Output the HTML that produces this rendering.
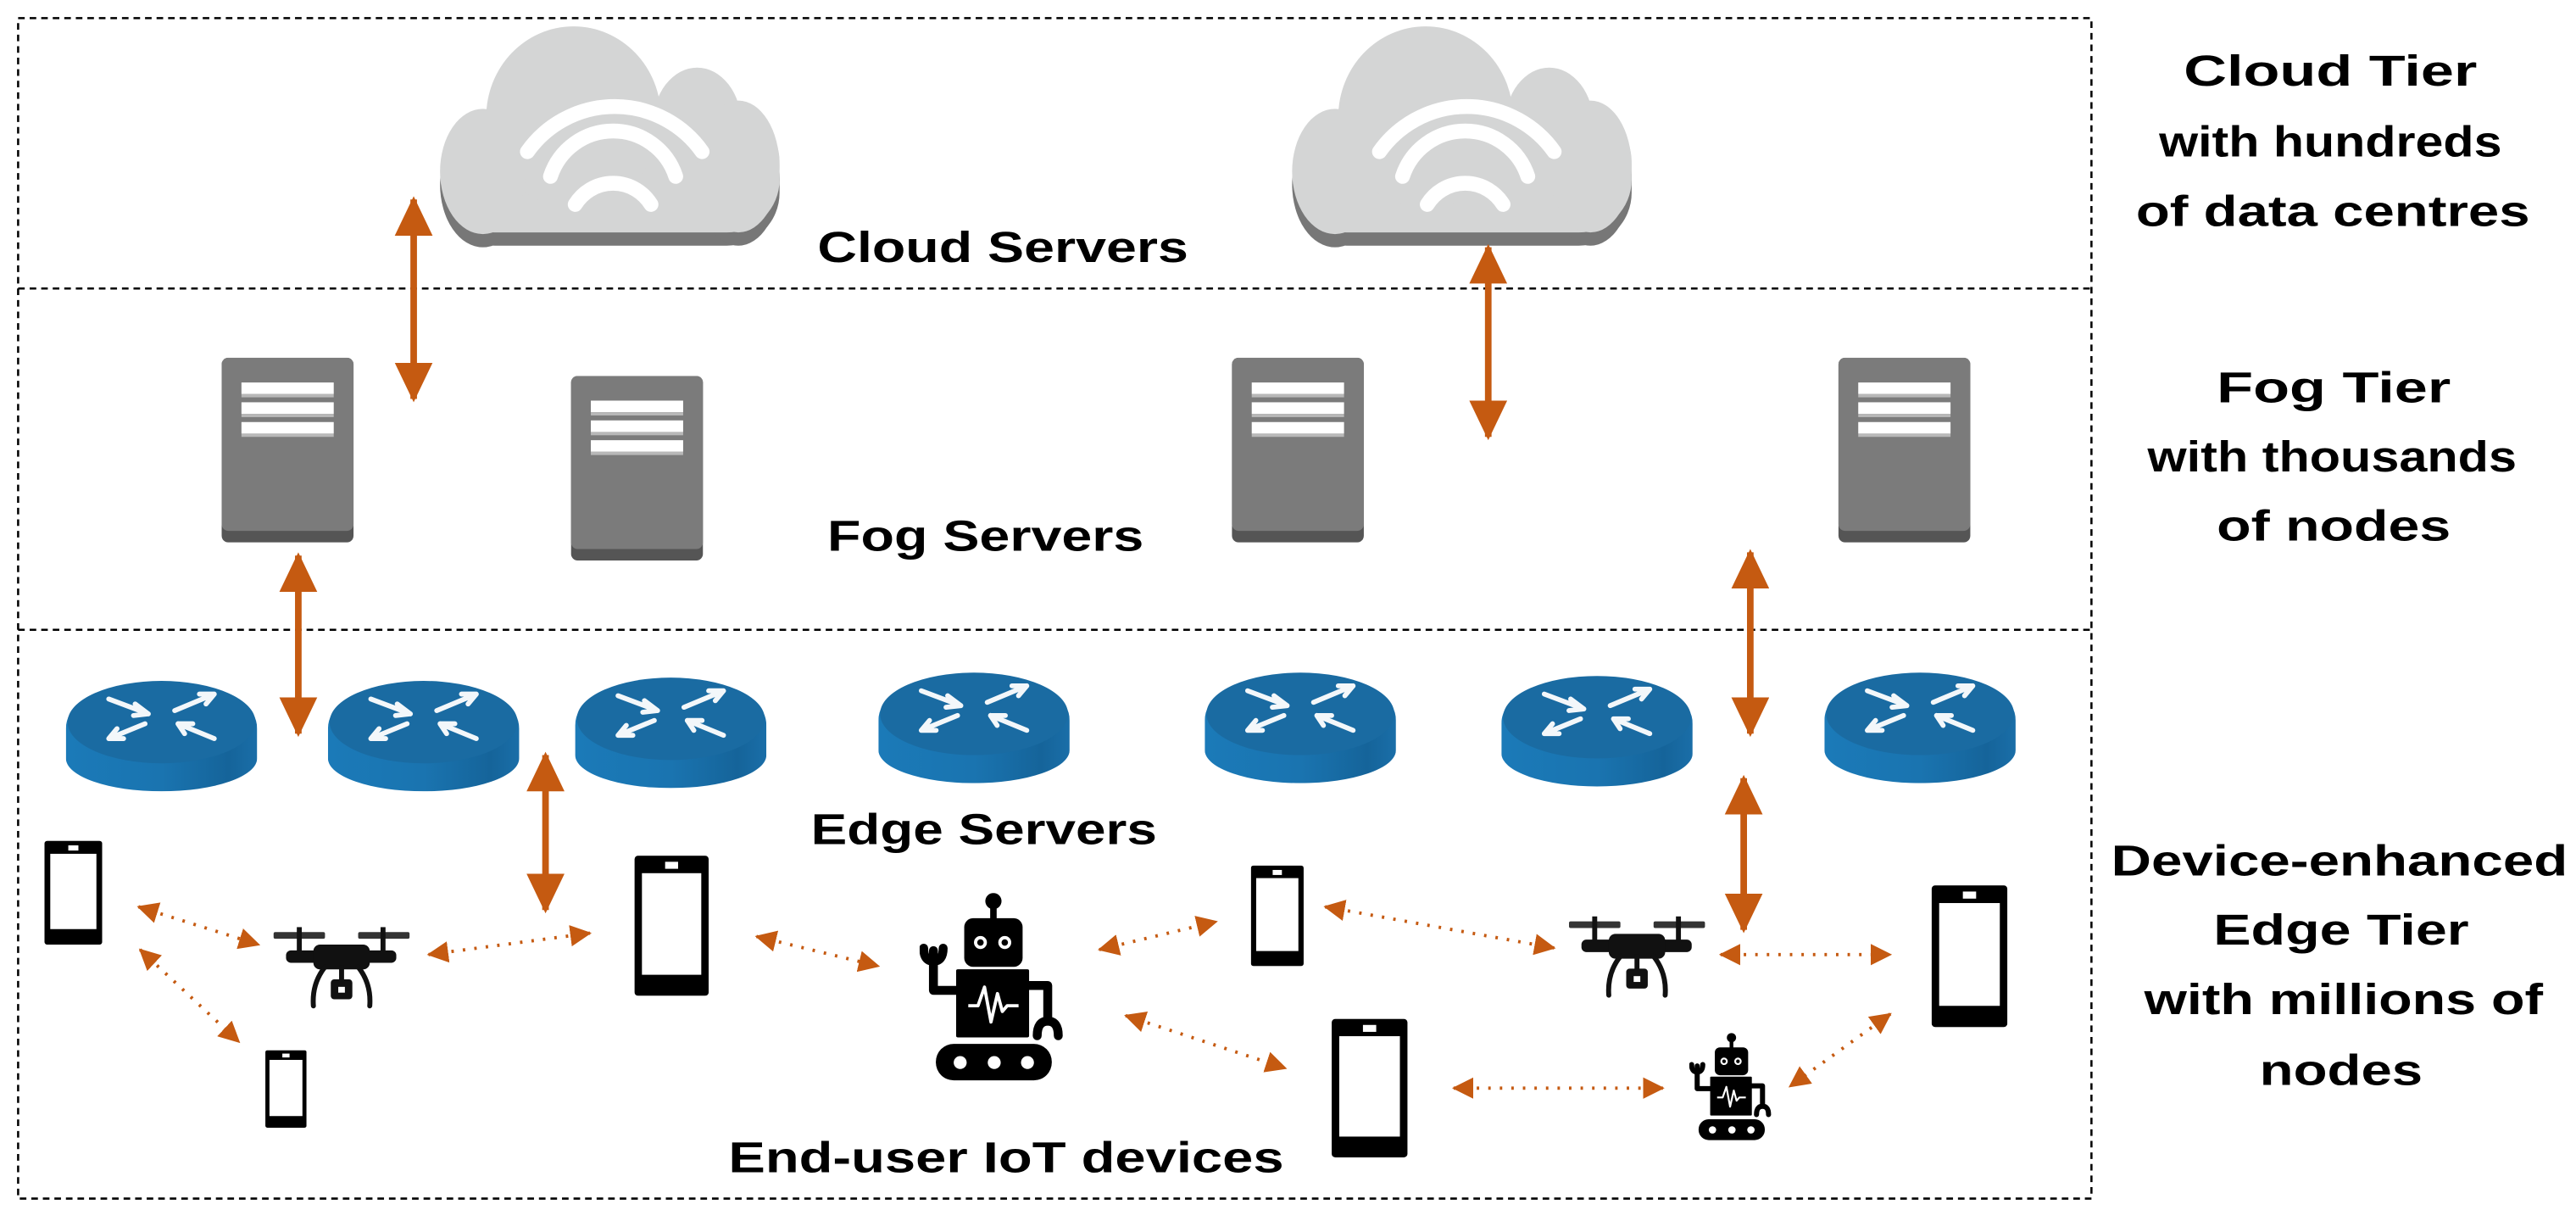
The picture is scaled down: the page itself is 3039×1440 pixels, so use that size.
<!DOCTYPE html>
<html><head><meta charset="utf-8"><style>
html,body{margin:0;padding:0;background:#fff;}
svg{display:block;}
text{font-family:"Liberation Sans",Arial,sans-serif;font-weight:bold;fill:#000;}
</style></head><body>
<svg width="3039" height="1440" viewBox="0 0 1563 740.6" preserveAspectRatio="none" xmlns="http://www.w3.org/2000/svg">
<defs>
<marker id="ah" markerUnits="userSpaceOnUse" markerWidth="24" markerHeight="23" refX="22" refY="11.5" orient="auto-start-reverse"><path d="M0,0 L24,11.5 L0,23 Z" fill="#c55a11"/></marker>
<marker id="dh" markerUnits="userSpaceOnUse" markerWidth="13" markerHeight="13" refX="12" refY="6.5" orient="auto-start-reverse"><path d="M0,0 L13,6.5 L0,13 Z" fill="#c55a11"/></marker>
<linearGradient id="rg" x1="0" x2="1" y1="0" y2="0"><stop offset="0" stop-color="#1b7ab8"/><stop offset="0.5" stop-color="#1a74b0"/><stop offset="0.85" stop-color="#15649a"/><stop offset="1" stop-color="#1a6ea8"/></linearGradient>
<symbol id="cloud" viewBox="0 0 205 135" overflow="visible">
 <g fill="#777">
  <rect x="0" y="58" width="205" height="75" rx="32"/><ellipse cx="80" cy="63" rx="53" ry="55"/><ellipse cx="155" cy="68" rx="27" ry="35"/><ellipse cx="180" cy="93" rx="25" ry="40"/><ellipse cx="25" cy="96" rx="26" ry="38"/>
 </g>
 <g fill="#d4d5d5">
  <rect x="0" y="50" width="205" height="75" rx="32"/><ellipse cx="80" cy="55" rx="53" ry="55"/><ellipse cx="155" cy="60" rx="27" ry="35"/><ellipse cx="180" cy="85" rx="25" ry="40"/><ellipse cx="25" cy="88" rx="26" ry="38"/>
 </g>
 <g fill="none" stroke="#fff" stroke-width="9" stroke-linecap="round">
  <path d="M52,76 A65,65 0 0 1 158,76"/><path d="M66,91 A40,40 0 0 1 142,91"/><path d="M81,108 A27,27 0 0 1 127,108"/>
 </g>
</symbol>
<symbol id="server" viewBox="0 0 80 112">
 <rect x="0" y="0" width="80" height="112" rx="4" fill="#555"/>
 <rect x="0" y="0" width="80" height="105" rx="4" fill="#7b7b7b"/>
 <g fill="#fff"><rect x="12" y="15" width="56" height="7"/><rect x="12" y="27" width="56" height="7"/><rect x="12" y="39" width="56" height="7"/></g>
 <g fill="#b8b8b8"><rect x="12" y="22" width="56" height="2"/><rect x="12" y="34" width="56" height="2"/><rect x="12" y="46" width="56" height="2"/></g>
</symbol>
<symbol id="router" viewBox="0 0 116 68">
 <path d="M0,30 Q0,20 10,14 L106,14 Q116,20 116,30 L116,48 A58,20 0 0 1 0,48 Z" fill="url(#rg)"/>
 <ellipse cx="58" cy="26" rx="57" ry="25" fill="#1a6ba2"/>
 <g stroke="#fff" stroke-width="3" fill="none" stroke-linecap="round" stroke-linejoin="round" opacity="0.95">
  <path d="M26,12 L50,21 M50,21 L42,15 M50,21 L41,22"/>
  <path d="M66,19 L90,9 M90,9 L81,9 M90,9 L85,15"/>
  <path d="M48,27 L26,36 M26,36 L31,30 M26,36 L35,36"/>
  <path d="M90,36 L68,27 M68,27 L77,27 M68,27 L72,33"/>
 </g>
</symbol>
<symbol id="phone" viewBox="0 0 40 80" preserveAspectRatio="none">
 <rect x="0" y="0" width="40" height="80" rx="2" fill="#000"/>
 <rect x="4" y="10" width="32" height="58" fill="#fff"/>
 <rect x="16.5" y="3.5" width="7" height="4" fill="#fff"/>
</symbol>
<symbol id="drone" viewBox="8 10 167 100">
 <g fill="#111">
  <rect x="10" y="18" width="62" height="8" rx="2" fill="#333"/><rect x="112" y="18" width="62" height="8" rx="2" fill="#333"/>
  <rect x="38" y="12" width="6" height="36"/><rect x="139" y="12" width="6" height="36"/>
  <rect x="25" y="40" width="133" height="15" rx="6"/>
  <rect x="58" y="33" width="68" height="30" rx="8"/>
  <rect x="89" y="58" width="6" height="20"/>
  <rect x="79" y="75" width="26" height="24" rx="4"/>
 </g>
 <rect x="88" y="84" width="8" height="7" fill="#fff"/>
 <g stroke="#111" stroke-width="6" fill="none" stroke-linecap="round">
  <path d="M72,60 Q56,80 58,107"/><path d="M112,60 Q128,80 126,107"/>
 </g>
</symbol>
<symbol id="robot" viewBox="0 0 185 235">
 <g fill="#000">
  <circle cx="91" cy="14" r="10"/><rect x="87" y="14" width="8" height="26"/>
  <rect x="55" y="35" width="72" height="60" rx="11"/>
  <rect x="45" y="98" width="90" height="84" rx="2"/>
  <rect x="20" y="190" width="143" height="45" rx="22"/>
 </g>
 <g stroke="#000" stroke-width="11" fill="none" stroke-linejoin="round" stroke-linecap="round">
  <path d="M47,124 L17,124 L17,75"/>
  <path d="M5,72 Q5,88 17,88 Q29,88 29,72"/>
  <path d="M133,118 L158,118 L158,160"/>
  <path d="M145,180 Q145,162 158,162 Q171,162 171,180"/>
 </g>
 <g fill="none" stroke="#fff" stroke-width="4"><circle cx="75" cy="65" r="6"/><circle cx="105" cy="65" r="6"/></g>
 <polyline points="60,143 72,143 80,120 88,163 96,128 102,150 108,143 122,143" fill="none" stroke="#fff" stroke-width="4" stroke-linejoin="round"/>
 <g fill="#fff"><circle cx="50" cy="213" r="8"/><circle cx="92" cy="213" r="8"/><circle cx="133" cy="213" r="8"/></g>
</symbol>
</defs>

<g fill="none" stroke="#000" stroke-width="1.3" stroke-dasharray="4 3">
 <rect x="11" y="11" width="1258" height="716"/>
 <line x1="11" y1="175" x2="1269" y2="175"/>
 <line x1="11" y1="382" x2="1269" y2="382"/>
</g>

<use href="#cloud" x="268" y="16" width="205" height="135"/>
<use href="#cloud" x="785" y="16" width="205" height="135"/>

<use href="#server" x="134" y="217" width="81" height="112"/>
<use href="#server" x="346" y="228" width="81" height="112"/>
<use href="#server" x="747" y="217" width="81" height="112"/>
<use href="#server" x="1115" y="217" width="81" height="112"/>

<use href="#router" x="40" y="412" width="116" height="68"/>
<use href="#router" x="199" y="412" width="116" height="68"/>
<use href="#router" x="349" y="410" width="116" height="68"/>
<use href="#router" x="533" y="407" width="116" height="68"/>
<use href="#router" x="731" y="407" width="116" height="68"/>
<use href="#router" x="911" y="409" width="116" height="68"/>
<use href="#router" x="1107" y="407" width="116" height="68"/>

<g stroke="#c55a11" stroke-width="4" marker-start="url(#ah)" marker-end="url(#ah)">
 <line x1="251" y1="121" x2="251" y2="242"/>
 <line x1="903" y1="150" x2="903" y2="265"/>
 <line x1="181" y1="337" x2="181" y2="445"/>
 <line x1="1062" y1="335" x2="1062" y2="445"/>
 <line x1="331" y1="458" x2="331" y2="552"/>
 <line x1="1058" y1="472" x2="1058" y2="564"/>
</g>

<use href="#phone" x="27" y="510" width="35" height="63"/>
<use href="#phone" x="385" y="519" width="45" height="85"/>
<use href="#phone" x="161" y="637" width="25" height="47"/>
<use href="#phone" x="759" y="525" width="32" height="61"/>
<use href="#phone" x="808" y="618" width="46" height="84"/>
<use href="#phone" x="1172" y="537" width="46" height="86"/>
<use href="#drone" x="165" y="561" width="84" height="51"/>
<use href="#drone" x="951" y="554" width="84" height="52"/>
<use href="#robot" x="558" y="538" width="91" height="119"/>
<use href="#robot" x="1025" y="625" width="52" height="67"/>

<g stroke="#c55a11" stroke-width="2" stroke-dasharray="1.5 5.5" marker-start="url(#dh)" marker-end="url(#dh)" fill="none">
 <line x1="84" y1="550" x2="157" y2="573"/>
 <line x1="85" y1="576" x2="145" y2="632"/>
 <line x1="260" y1="579" x2="358" y2="566"/>
 <line x1="459" y1="568" x2="533" y2="586"/>
 <line x1="667" y1="576" x2="738" y2="559"/>
 <line x1="683" y1="616" x2="780" y2="648"/>
 <line x1="804" y1="550" x2="943" y2="575"/>
 <line x1="1044" y1="579" x2="1147" y2="579"/>
 <line x1="882" y1="660" x2="1009" y2="660"/>
 <line x1="1147" y1="615" x2="1086" y2="659"/>
</g>

<g font-size="26">
 <text x="496" y="159" textLength="225" lengthAdjust="spacingAndGlyphs">Cloud Servers</text>
 <text x="502" y="334" textLength="192" lengthAdjust="spacingAndGlyphs">Fog Servers</text>
 <text x="492" y="512" textLength="210" lengthAdjust="spacingAndGlyphs">Edge Servers</text>
 <text x="442" y="711" textLength="337" lengthAdjust="spacingAndGlyphs">End-user IoT devices</text>

 <text x="1325" y="52" textLength="178" lengthAdjust="spacingAndGlyphs">Cloud Tier</text>
 <text x="1310" y="95" textLength="208" lengthAdjust="spacingAndGlyphs">with hundreds</text>
 <text x="1296" y="137" textLength="239" lengthAdjust="spacingAndGlyphs">of data centres</text>

 <text x="1345" y="244" textLength="142" lengthAdjust="spacingAndGlyphs">Fog Tier</text>
 <text x="1303" y="286" textLength="224" lengthAdjust="spacingAndGlyphs">with thousands</text>
 <text x="1345" y="328" textLength="142" lengthAdjust="spacingAndGlyphs">of nodes</text>

 <text x="1281" y="531" textLength="277" lengthAdjust="spacingAndGlyphs">Device-enhanced</text>
 <text x="1343" y="573" textLength="155" lengthAdjust="spacingAndGlyphs">Edge Tier</text>
 <text x="1301" y="615" textLength="242" lengthAdjust="spacingAndGlyphs">with millions of</text>
 <text x="1371" y="658" textLength="99" lengthAdjust="spacingAndGlyphs">nodes</text>
</g>
</svg>
</body></html>
